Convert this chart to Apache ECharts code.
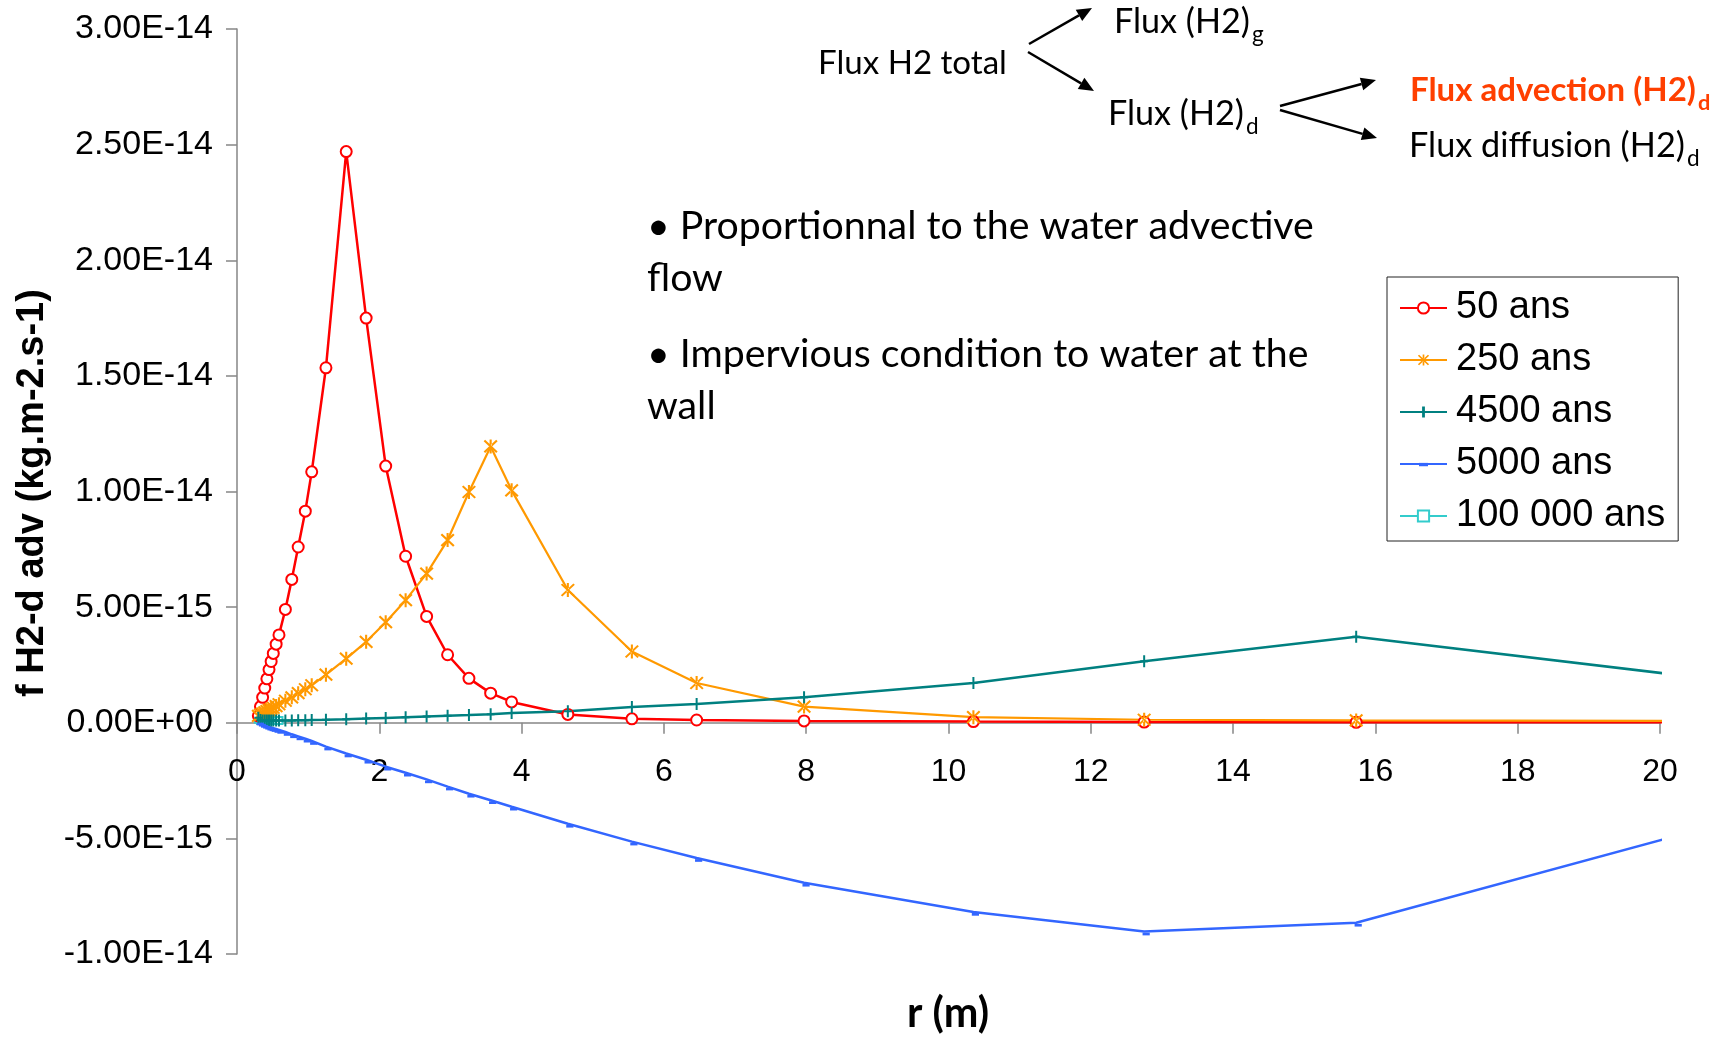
<!DOCTYPE html>
<html><head><meta charset="utf-8">
<script src="https://cdn.jsdelivr.net/npm/echarts@6/dist/echarts.min.js"></script>
<style>html,body{margin:0;padding:0;background:#fff}#c{width:1729px;height:1038px}</style>
</head><body><div id="c"></div>
<script>
// ---- data (y values in units of 1E-15 kg.m-2.s-1) ----
const rValues = [0.30,0.33,0.36,0.39,0.42,0.45,0.48,0.51,0.55,0.59,0.68,0.77,0.86,0.96,1.05,1.25,1.535,1.815,2.09,2.37,2.665,2.96,3.26,3.565,3.86,4.65,5.55,6.46,7.97,10.35,12.75,15.73,20.1];
const s50 = [0.3,0.7,1.1,1.5,1.9,2.3,2.65,3.0,3.4,3.8,4.9,6.2,7.6,9.15,10.85,15.35,24.7,17.5,11.1,7.2,4.6,2.94,1.92,1.28,0.9,0.36,0.17,0.12,0.08,0.05,0.03,0.02,0.02];
const s250 = [0.3,0.35,0.4,0.45,0.5,0.55,0.6,0.65,0.72,0.8,0.95,1.1,1.28,1.45,1.62,2.08,2.77,3.5,4.35,5.3,6.45,7.9,9.98,11.95,10.05,5.74,3.08,1.72,0.7,0.24,0.13,0.1,0.08];
const s4500 = [0.22,0.12,0.1,0.1,0.1,0.1,0.1,0.1,0.1,0.1,0.1,0.1,0.11,0.11,0.12,0.13,0.15,0.18,0.21,0.24,0.27,0.3,0.33,0.37,0.42,0.5,0.68,0.81,1.1,1.72,2.66,3.72,2.12];
const s5000 = [0.05,0.0,-0.05,-0.09,-0.13,-0.17,-0.2,-0.23,-0.27,-0.31,-0.4,-0.5,-0.59,-0.69,-0.79,-1.03,-1.33,-1.6,-1.9,-2.16,-2.45,-2.76,-3.07,-3.35,-3.63,-4.37,-5.14,-5.85,-6.92,-8.18,-9.03,-8.65,-5.0];
const s100000 = [0.15,0.1,0.1,0.1,0.1,0.1,0.1,0.1,0.1,0.1,null,null,null,null,null,null,null,null,null,null,null,null,null,null,null,null,null,null,null,null,null,null,null];
const seriesNames = ['50 ans','250 ans','4500 ans','5000 ans','100 000 ans'];
const xMin = 0, xMax = 20, xStep = 2;
const yMin = -10, yMax = 30, yStep = 5; // x 1E-15

function pairs(ys){ return rValues.map((x,i)=>[x, ys[i]]); }
function fmtY(v){
  if (Math.abs(v) < 1e-9) return '0.00E+00';
  let s = (v*1e-15).toExponential(2).toUpperCase();
  return s.replace(/E([+-])(\d+)$/, (m,sg,d)=>'E'+sg+(d.length<2?'0'+d:d));
}

const cv = document.createElement('canvas').getContext('2d');
function fit(text, family, weight, target, base){
  cv.font = weight+' '+base+'px '+family;
  const w = cv.measureText(text).width;
  return base*target/w;
}
function measure(text, family, weight, size){
  cv.font = weight+' '+size+'px '+family;
  return cv.measureText(text).width;
}

const ANN = 'Lato';
const AR = '"Liberation Sans", Arial, sans-serif';
const graphics = [];
function txt(text, x, y, size, opts){
  opts = opts || {};
  graphics.push({type:'text', x:x, y:y, rotation: opts.rot||0, silent:true,
    style:{text:text, fontSize:size, fontFamily:opts.family||ANN, fontWeight:opts.weight||'normal',
      fill:opts.color||'#000', align:opts.align||'left', verticalAlign:'middle'}});
}
function arrow(x1,y1,x2,y2){
  const L=15, W=6.5, a=Math.atan2(y2-y1,x2-x1);
  const bx=x2-L*Math.cos(a), by=y2-L*Math.sin(a);
  graphics.push({type:'line', silent:true, shape:{x1:x1,y1:y1,x2:bx,y2:by}, style:{stroke:'#000', lineWidth:2.5}});
  graphics.push({type:'polygon', silent:true, shape:{points:[[x2,y2],[bx+W*Math.sin(a),by-W*Math.cos(a)],[bx-W*Math.sin(a),by+W*Math.cos(a)]]}, style:{fill:'#000'}});
}
function subText(text, sub, x, y, target, opts){
  opts = opts||{};
  const w = opts.weight||'normal';
  const size = fit(text, ANN, w, target, 30);
  txt(text, x, y, size, opts);
  const tw = measure(text, ANN, w, size);
  if (sub) txt(sub, x+tw+2, y+size*0.38, size*0.66, opts);
}

// diagram at top
subText('Flux H2 total', null, 818, 63, 189);
subText('Flux (H2)', 'g', 1114, 22, 136);
subText('Flux (H2)', 'd', 1108, 114, 136);
subText('Flux advection (H2)', 'd', 1410, 90, 286, {weight:'bold', color:'#ff3f00'});
subText('Flux diffusion (H2)', 'd', 1409, 146, 276);
arrow(1029,44,1092,8);
arrow(1028,52,1094,91);
arrow(1280,106,1376,80);
arrow(1280,110,1377,138);

// bullet text
const bSize = fit('• Proportionnal to the water advective', ANN, 'normal', 667, 30);
txt('• Proportionnal to the water advective', 647, 226, bSize);
txt('flow', 647, 278, bSize);
txt('• Impervious condition to water at the', 647, 354, bSize);
txt('wall', 647, 406, bSize);

// axis titles
const yt = 'f H2-d adv (kg.m-2.s-1)';
txt(yt, 33, 493, fit(yt, AR, 'bold', 408, 30), {family:AR, weight:'bold', align:'center', rot:Math.PI/2});
txt('r (m)', 948, 1014, fit('r (m)', ANN, 'bold', 82, 30), {weight:'bold', align:'center'});

const axisGray = '#868686';
const chart = echarts.init(document.getElementById('c'), null, {renderer:'canvas'});
chart.setOption({
  animation:false,
  backgroundColor:'#fff',
  grid:{left:237, right:69, top:29, bottom:84, containLabel:false, outerBoundsMode:'none'},
  xAxis:{type:'value', min:xMin, max:xMax, interval:xStep,
    axisLine:{show:true, onZero:true, lineStyle:{color:axisGray, width:1.5}},
    axisTick:{show:true, length:11, lineStyle:{color:axisGray, width:1.5}},
    axisLabel:{fontSize:32, fontFamily:AR, color:'#000', margin:-198},
    splitLine:{show:false}},
  yAxis:{type:'value', min:yMin, max:yMax, interval:yStep,
    axisLine:{show:true, onZero:false, lineStyle:{color:axisGray, width:1.5}},
    axisTick:{show:true, length:11, lineStyle:{color:axisGray, width:1.5}},
    axisLabel:{fontSize:34, fontFamily:AR, color:'#000', margin:24, formatter:fmtY},
    splitLine:{show:false}},
  legend:{data:seriesNames, orient:'vertical', left:1387, top:277, padding:[9,13,3,12], itemGap:8,
    itemWidth:47, itemHeight:14, borderColor:'#222', borderWidth:1, symbolKeepAspect:true,
    textStyle:{fontSize:38, fontFamily:AR, color:'#000', lineHeight:44, padding:[0,0,0,4]}},
  graphic:graphics,
  series:[
    {name:'50 ans', type:'line', data:pairs(s50), symbol:'emptyCircle', symbolSize:11, clip:true,
      lineStyle:{color:'#ff0000', width:2.5}, itemStyle:{color:'#ff0000', borderWidth:1.8}},
    {name:'250 ans', type:'line', data:pairs(s250), clip:true,
      symbol:'path://M4.3,0h1.4v10h-1.4z M0.3,1.3L1.3,0.3L9.7,8.7L8.7,9.7z M9.7,1.3L8.7,0.3L0.3,8.7L1.3,9.7z', symbolSize:14,
      lineStyle:{color:'#ff9900', width:2.2}, itemStyle:{color:'#ff9900', borderWidth:0}},
    {name:'4500 ans', type:'line', data:pairs(s4500), clip:true,
      symbol:'path://M3,0h2v12h-2z M0,5h8v2h-8z', symbolSize:[8,12],
      lineStyle:{color:'#008080', width:2.5}, itemStyle:{color:'#008080', borderWidth:0}},
    {name:'5000 ans', type:'line', data:pairs(s5000), clip:true,
      symbol:'path://M0,0M10,10M1,4h8v3h-8z', symbolSize:9, symbolOffset:[2,2],
      lineStyle:{color:'#3366ff', width:2.5}, itemStyle:{color:'#3366ff', borderWidth:0}},
    {name:'100 000 ans', type:'line', data:pairs(s100000), symbol:'emptyRect', symbolSize:7, z:1, clip:true,
      lineStyle:{color:'#33cccc', width:2}, itemStyle:{color:'#33cccc', borderWidth:1.5}}
  ]
});
</script></body></html>
